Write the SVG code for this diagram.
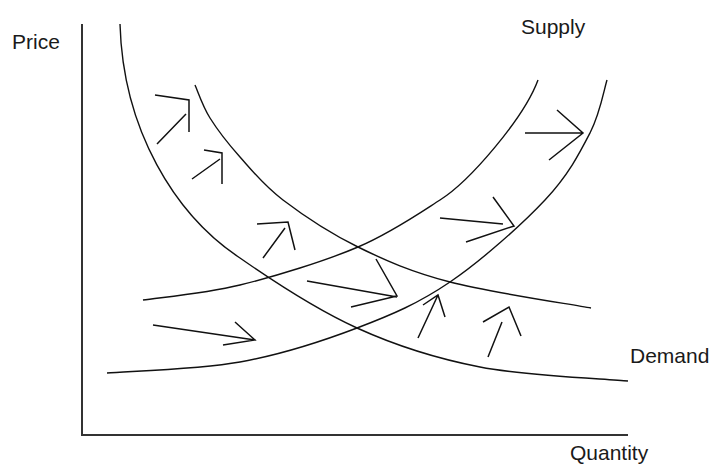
<svg xmlns="http://www.w3.org/2000/svg" width="715" height="469" viewBox="0 0 715 469">
<style>
.lbl{font-family:"Liberation Sans",Arial,sans-serif;font-size:21px;fill:#1a1a1a}
.ax{stroke:#333;stroke-width:2;fill:none}
.cv{stroke:#111;stroke-width:1.4;fill:none}
.ar{stroke:#111;stroke-width:1.5;fill:none;stroke-linejoin:miter}
</style>
<rect width="715" height="469" fill="#fff"/>
<g id="axes">
<path class="ax" d="M82,24 V435 H628"/>
</g>
<g id="curves">
<path id="demand1" class="cv" d="M120,24 C123,130 175,215 240,258 C273,281 317,309.8 357,328 C397,346.2 434.8,358.2 480,367 C525.2,375.8 603.3,378.7 628,381"/>
<path id="demand2" class="cv" d="M195,85 C197.5,90.5 202.5,106 210,118 C217.5,130 227.8,143.3 240,157 C252.2,170.7 263.3,185 283,200 C302.7,215 330.2,233.3 358,247 C385.8,260.7 411.2,271.8 450,282 C488.8,292.2 567.5,303.7 591,308"/>
<path id="supply1" class="cv" d="M143,300 C159.2,297.5 204.2,293.8 240,285 C275.8,276.2 324.7,261.2 358,247 C391.3,232.8 420.5,212.5 440,200 C470,181 524,118 538,80"/>
<path id="supply2" class="cv" d="M107,373 C129.2,371.2 198.3,369.5 240,362 C281.7,354.5 322,341.3 357,328 C392,314.7 418.7,303.3 450,282 C481.3,260.7 521.7,224.8 545,200 C568.3,175.2 579.7,153 590,133 C600.3,113 604.2,88.8 607,80"/>
</g>
<g id="arrows">
<path class="ar" d="M157,144 L186,114 M155,95 L189,100 L189,132"/>
<path class="ar" d="M192,179 L220,159 M204,150 L222,153 L222,184"/>
<path class="ar" d="M263,258 L285,228 M257,224 L288,222 L295,250"/>
<path class="ar" d="M307,281 L397,297 M376,259 L397,296 L351,307"/>
<path class="ar" d="M153,325 L255,340 M235,322 L255,340 L223,345"/>
<path class="ar" d="M418,338 L438,295 M423,305 L438,295 L445,317"/>
<path class="ar" d="M488,357 L502,322 M483,322 L509,307 L521,336"/>
<path class="ar" d="M440,218 L503,224 M493,197 L514,226 L466,242"/>
<path class="ar" d="M525,133 L583,133 M557,110 L583,133 L549,160"/>
</g>
<g id="labels">
<text id="price" class="lbl" x="12" y="49">Price</text>
<text id="supply" class="lbl" x="521" y="34">Supply</text>
<text id="demand" class="lbl" x="630" y="363">Demand</text>
<text id="quantity" class="lbl" x="570" y="460">Quantity</text>
</g>
</svg>
